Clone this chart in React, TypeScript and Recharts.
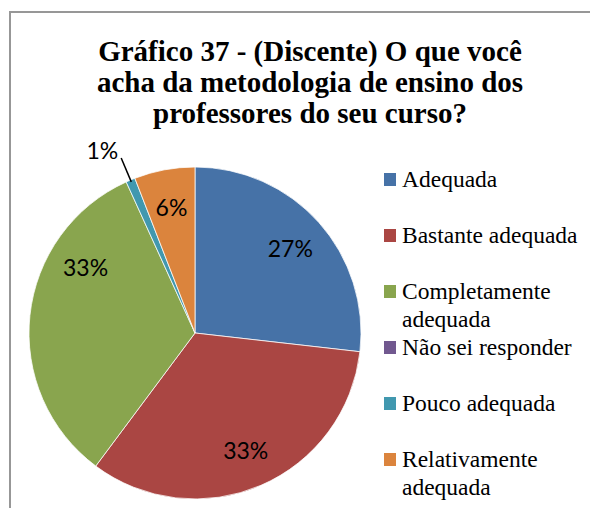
import React from "react";
import { PieChart, Pie, Cell, Legend } from "recharts";

// Respostas (percentual de discentes)
const categories = [
  "Adequada",
  "Bastante adequada",
  "Completamente adequada",
  "Não sei responder",
  "Pouco adequada",
  "Relativamente adequada",
];
const shares = [26.8, 33.4, 33.0, 0, 0.9, 5.9];
const colors = ["#4672A7", "#AA4643", "#89A54E", "#71588F", "#4198AF", "#DB843D"];

const titleLines = [
  "Gráfico 37 - (Discente) O que você",
  "acha da metodologia de ensino dos",
  "professores do seu curso?",
];

const data = categories.map((name, i) => ({ name, value: shares[i] }));

const RAD = Math.PI / 180;
const serif = '"Liberation Serif", Tinos, "Times New Roman", "DejaVu Serif", serif';
const labelFont = "Lato, 'Open Sans', sans-serif";

// small angular nudges for labels Excel moved off the mid-angle
const labelNudge: Record<string, number> = { "Completamente adequada": -25 };

const renderLabel = (props: any) => {
  const { cx, cy, midAngle, outerRadius, percent, value, name } = props;
  if (!value) return null;
  const text = `${Math.round(percent * 100)}%`;
  if (percent < 0.02) {
    const cos = Math.cos(-midAngle * RAD);
    const sin = Math.sin(-midAngle * RAD);
    const x1 = cx + (outerRadius - 2) * cos;
    const y1 = cy + (outerRadius - 2) * sin;
    const x2 = cx + (outerRadius + 24) * cos;
    const y2 = cy + (outerRadius + 24) * sin;
    return (
      <g>
        <path d={`M${x1},${y1}L${x2},${y2}`} stroke="#000" strokeWidth={1.5} fill="none" />
        <text
          x={x2 - 3}
          y={y2 - 8}
          textAnchor="end"
          dominantBaseline="central"
          fontFamily={labelFont}
          fontSize={23}
          fill="#000"
        >
          {text}
        </text>
      </g>
    );
  }
  const a = midAngle + (labelNudge[name] || 0);
  const r = outerRadius * 0.77;
  const x = cx + r * Math.cos(-a * RAD);
  const y = cy + r * Math.sin(-a * RAD);
  return (
    <text
      x={x}
      y={y}
      textAnchor="middle"
      dominantBaseline="central"
      fontFamily={labelFont}
      fontSize={23}
      fill="#000"
    >
      {text}
    </text>
  );
};

const renderLegend = (props: any) => {
  const items = props.payload || [];
  return (
    <div style={{ fontFamily: serif, fontSize: 23.5, lineHeight: "28px", color: "#000" }}>
      {items.map((entry: any, i: number) => (
        <div key={i} style={{ position: "relative", height: 56, paddingLeft: 26 }}>
          <span
            style={{
              position: "absolute",
              left: 8,
              top: 8,
              width: 12,
              height: 13,
              background: entry.color,
            }}
          />
          {entry.value}
        </div>
      ))}
    </div>
  );
};

export default function App() {
  return (
    <div style={{ position: "relative", width: 590, height: 500, overflow: "hidden", background: "#fff" }}>
      <div
        style={{
          position: "absolute",
          left: 1,
          top: 3,
          width: 620,
          height: 620,
          borderLeft: "2px solid #979797",
          borderTop: "2px solid #979797",
        }}
      />
      <div
        style={{
          position: "absolute",
          left: 52,
          top: 28,
          width: 500,
          textAlign: "center",
          fontFamily: serif,
          fontWeight: "bold",
          fontSize: 29,
          lineHeight: "31px",
          color: "#000",
        }}
      >
        {titleLines.map((t, i) => (
          <div key={i}>{t}</div>
        ))}
      </div>
      <PieChart width={590} height={500} style={{ position: "absolute", left: 0, top: 0 }}>
        <Pie
          data={data}
          dataKey="value"
          nameKey="name"
          cx={182}
          cy={320}
          outerRadius={166}
          startAngle={90}
          endAngle={-270}
          stroke="#ffffff"
          strokeWidth={0.75}
          label={renderLabel}
          labelLine={false}
          isAnimationActive={false}
        >
          {data.map((d, i) => (
            <Cell key={d.name} fill={colors[i]} />
          ))}
        </Pie>
        <Legend
          layout="vertical"
          verticalAlign="top"
          align="right"
          content={renderLegend}
          wrapperStyle={{ position: "absolute", top: 157, left: 368, width: 215 }}
        />
      </PieChart>
    </div>
  );
}
